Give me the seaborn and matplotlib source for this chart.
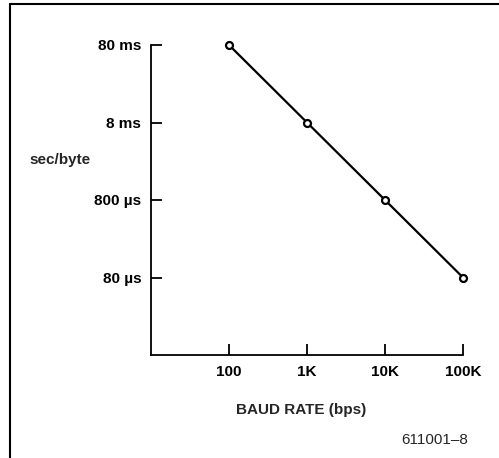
import matplotlib
matplotlib.use("Agg")
import matplotlib.pyplot as plt
from matplotlib.lines import Line2D
import seaborn as sns
import pandas as pd

baud = [100, 1000, 10000, 100000]
sec_per_byte = [0.08, 0.008, 0.0008, 0.00008]
x_ticks = [100, 1000, 10000, 100000]
x_labels = ["100", "1K", "10K", "100K"]
y_ticks = [0.00008, 0.0008, 0.008, 0.08]
y_labels = ["80 µs", "800 µs", "8 ms", "80 ms"]

sns.set_style("white")
plt.rcParams["font.family"] = ["Liberation Sans", "DejaVu Sans"]

df = pd.DataFrame({"baud": baud, "spb": sec_per_byte})

fig = plt.figure(figsize=(4.99, 4.58), dpi=100)
ax = fig.add_axes([151 / 499, 1 - 355 / 458, (463 - 151) / 499, (355 - 45) / 458])

sns.lineplot(data=df, x="baud", y="spb", ax=ax, color="black", linewidth=1.6,
             marker="o", markersize=5, markerfacecolor="white",
             markeredgecolor="black", markeredgewidth=1.6, clip_on=False)

ax.set_xscale("log")
ax.set_yscale("log")
ax.set_xlim(10, 100000)
ax.set_ylim(0.000008, 0.08)
ax.minorticks_off()
ax.set_xticks(x_ticks)
ax.set_xticklabels(x_labels)
ax.set_yticks(y_ticks)
ax.set_yticklabels(y_labels)
ax.tick_params(direction="in", length=8, width=1.3, labelsize=11, pad=7,
               colors="black", left=True, bottom=True)
for lab in ax.get_xticklabels() + ax.get_yticklabels():
    lab.set_fontweight("semibold")

sns.despine(ax=ax)
for s in ["left", "bottom"]:
    ax.spines[s].set_linewidth(1.3)
    ax.spines[s].set_color("black")

ax.set_xlabel("")
ax.set_ylabel("")
fig.text(301 / 499, 1 - 410 / 458, "BAUD RATE (bps)", ha="center", va="center",
         fontsize=11, fontweight="bold")
fig.text(29 / 499, 1 - 160 / 458, "sec/byte", ha="left", va="center",
         fontsize=11, fontweight="bold")
fig.text(468 / 499, 1 - 440 / 458, "611001–8", ha="right", va="center",
         fontsize=11)

# page frame (top and left edges only)
fig.add_artist(Line2D([10 / 499, 10 / 499], [0, 1 - 4 / 458], color="black", linewidth=1.5))
fig.add_artist(Line2D([10 / 499, 1], [1 - 4 / 458, 1 - 4 / 458], color="black", linewidth=1.5))

fig.savefig("out.png", dpi=100)
